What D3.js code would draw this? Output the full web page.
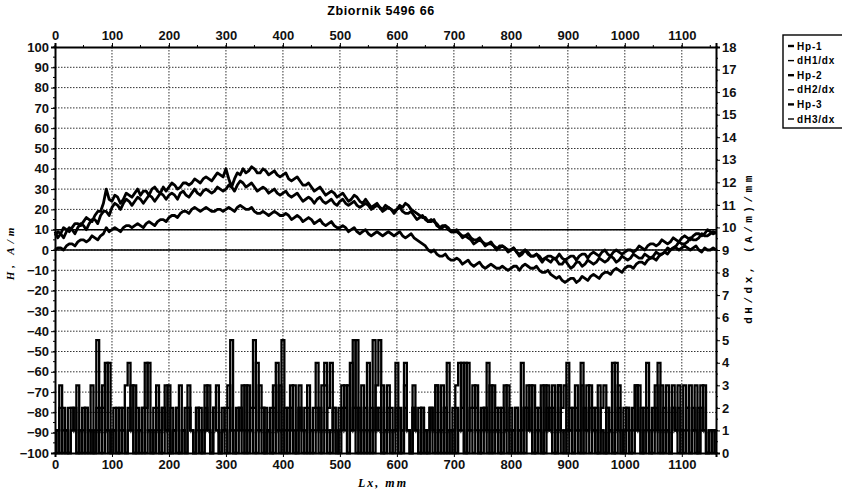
<!DOCTYPE html>
<html>
<head>
<meta charset="utf-8">
<script src="https://cdnjs.cloudflare.com/ajax/libs/d3/7.8.5/d3.min.js"></script>
<style>
body { margin:0; background:#fff; }
svg { font-family: "Liberation Sans", Arial, sans-serif; }
.tick text { font-weight:bold; font-size:13px; fill:#111; }
</style>
</head>
<body>
<div id="chart"></div>
<script>
// tick labels
const xTicks = [0,100,200,300,400,500,600,700,800,900,1000,1100];
const hTicks = [100,90,80,70,60,50,40,30,20,10,0,-10,-20,-30,-40,-50,-60,-70,-80,-90,-100];
const dTicks = [0,1,2,3,4,5,6,7,8,9,10,11,12,13,14,15,16,17,18];
const seriesNames = ['Hp-1','dH1/dx','Hp-2','dH2/dx','Hp-3','dH3/dx'];

// H curves, sampled every 5 mm (0..1160), one row = 100 mm
const hStep = 5;
const hp1 = [9,6,8,11,10,9,11,13,13,12,14,16,15,14,17,19,19,23,30,25,
  24,27,26,23,25,28,27,26,28,30,27,29,29,27,30,31,29,28,31,29,
  31,33,32,30,31,33,33,32,33,35,34,33,35,36,35,34,36,38,37,36,
  40,35,31,35,38,37,40,38,39,41,40,38,38,40,39,37,38,39,37,36,
  37,38,35,34,35,36,34,32,32,33,31,29,30,31,29,27,28,29,28,26,
  27,28,26,24,25,27,26,24,23,25,23,21,22,23,21,20,22,21,20,18,
  20,22,21,23,22,20,19,18,17,16,16,14,15,14,13,11,12,12,11,9,
  9,9,8,6,7,6,5,3,4,5,4,2,3,3,2,0,2,2,1,-1,
  0,1,-1,-3,-2,0,-1,-3,-3,-2,-4,-6,-4,-5,-6,-4,-5,-7,-7,-5,
  -7,-9,-8,-6,-6,-8,-7,-5,-6,-7,-6,-4,-5,-6,-5,-3,-4,-6,-5,-3,
  -4,-5,-4,-2,-3,-4,-4,-2,-3,-4,-3,-1,-2,-2,-1,1,0,1,2,4,
  3,3,4,6,5,5,6,8,7,7,8,9,8];
const hp2 = [7,9,8,6,9,11,10,8,11,13,12,10,13,15,15,13,17,19,19,17,
  21,23,22,20,23,25,24,22,24,26,25,23,25,27,26,24,26,28,27,25,
  27,28,27,25,28,29,27,26,28,30,28,27,29,30,29,28,29,31,30,29,
  30,32,31,29,32,34,33,31,32,33,31,29,30,31,30,28,29,30,28,27,
  28,29,27,26,27,28,26,24,25,26,25,23,25,26,24,23,24,25,23,22,
  24,25,23,22,23,24,22,21,22,23,22,20,21,22,21,19,20,21,20,19,
  20,21,19,18,18,19,17,15,16,17,15,14,14,15,12,11,11,12,10,9,
  9,10,8,7,7,8,6,5,5,6,4,3,3,4,2,1,1,2,1,0,
  0,1,-1,-2,-1,0,-2,-3,-3,-2,-3,-5,-4,-3,-3,-4,-4,-2,-4,-5,
  -4,-3,-3,-5,-3,-2,-2,-4,-2,-1,-2,-3,-1,0,-2,-3,-1,0,-1,-2,
  -1,0,0,-1,0,2,1,0,2,3,3,2,3,5,4,3,4,6,5,4,
  6,7,6,5,7,8,8,7,8,10,9,8,9];
const hp3 = [0,1,1,0,2,3,3,2,4,5,5,4,5,7,6,5,7,8,11,9,
  10,11,10,9,11,12,12,11,12,13,12,11,13,14,13,12,14,15,15,14,
  16,17,17,16,18,19,19,18,20,21,20,19,20,21,20,19,19,20,20,19,
  20,21,20,19,21,22,21,20,20,21,19,18,18,19,18,17,18,19,18,17,
  17,18,17,15,16,17,16,14,15,16,15,13,14,15,13,12,13,14,12,11,
  11,12,11,9,10,11,9,8,9,10,8,7,8,9,8,7,8,9,8,7,
  8,9,7,6,7,8,6,5,4,3,2,0,-1,0,-2,-3,-3,-2,-4,-5,
  -5,-4,-5,-7,-6,-5,-7,-8,-7,-6,-8,-9,-8,-7,-8,-9,-9,-8,-9,-10,
  -9,-8,-8,-10,-8,-7,-8,-9,-9,-8,-10,-11,-11,-10,-12,-13,-14,-13,-15,-16,
  -15,-14,-14,-16,-15,-13,-14,-15,-13,-12,-13,-14,-12,-11,-11,-12,-10,-9,-10,-11,
  -9,-8,-8,-9,-7,-6,-6,-7,-5,-4,-4,-5,-3,-2,-1,-2,0,1,1,0,
  1,2,1,0,1,2,0,-1,1,0,0,1,0];

// dH/dx curves, sampled every 5 mm (0..1160)
const dStep = 5;
const dh1 = [1,0,3,1,0,2,2,1,0,1, 0,2,1,0,1,5,0,2,4,1, 0,1,2,0,1,3,4,1,0,2,
  1,0,2,4,1,0,2,1,0,3, 1,0,1,2,0,1,0,2,1,0, 2,1,0,3,1,0,2,1,0,2,
  1,0,5,1,0,2,1,3,0,1, 2,4,1,0,2,1,0,3,1,0, 5,1,0,2,1,0,3,1,2,0,
  1,2,4,0,1,3,1,0,2,1, 0,2,1,3,1,5,0,2,1,0, 4,1,0,2,1,3,0,1,2,1,
  4,0,1,2,1,0,3,1,0,2, 1,0,2,1,0,1,3,0,4,1, 0,2,1,4,0,1,2,3,1,0,
  2,1,4,0,1,2,1,0,3,1, 0,1,2,0,1,2,1,3,0,2, 1,0,3,1,2,0,1,3,0,1,
  4,1,0,2,1,3,0,1,2,1, 0,3,1,0,2,1,0,1,3,0, 1,2,0,1,3,1,0,2,1,0,
  2,1,4,0,1,3,0,2,1,0, 1,3,1,0,2,1,0,3,1,0, 1,0,1];
const dh2 = [0,1,2,0,1,0,2,1,3,0, 1,2,0,1,0,2,1,3,1,4, 0,1,0,2,1,0,2,1,3,0,
  1,2,0,1,0,2,1,0,2,1, 3,0,1,2,0,1,2,3,1,0, 1,2,0,1,3,0,2,1,0,1,
  2,3,1,0,2,1,3,0,1,2, 5,0,1,2,0,1,2,0,4,1, 0,2,1,3,0,1,2,0,1,3,
  0,1,2,1,3,4,0,1,2,0, 1,3,2,0,1,2,5,1,0,2, 1,0,5,1,2,0,1,3,0,1,
  2,0,1,4,1,0,2,1,0,2, 0,1,2,0,3,1,0,2,1,0, 1,3,4,1,0,4,1,0,2,1,
  0,2,1,3,0,1,2,0,1,0, 2,1,0,1,4,0,2,1,3,0, 1,3,0,2,1,3,0,1,2,3,
  0,1,2,1,0,4,1,3,0,2, 1,0,2,3,0,1,4,0,2,1, 0,2,1,0,3,1,2,0,4,1,
  0,2,1,3,0,1,0,2,1,3, 0,1,2,0,1,3,0,2,1,0, 1,1,0];
const dh3 = [1,1,0,2,1,0,1,2,0,1, 2,0,1,3,0,1,2,0,1,0, 1,2,0,1,2,0,1,3,0,1,
  0,2,4,1,0,1,3,0,2,1, 0,2,1,0,3,1,0,2,1,0, 2,0,1,2,1,0,2,3,0,1,
  0,2,1,0,1,2,0,1,3,1, 0,1,3,2,0,1,0,2,1,3, 1,0,2,1,3,0,2,1,0,2,
  1,0,1,2,0,1,2,4,1,0, 2,1,3,0,4,1,2,0,3,1, 0,2,1,3,5,0,1,2,1,0,
  1,2,0,3,1,0,2,1,2,0, 1,0,2,1,3,0,1,2,0,1, 2,0,1,2,4,0,1,2,3,0,
  1,2,0,1,3,1,0,2,1,3, 1,0,2,1,0,2,3,1,0,1, 2,0,1,3,1,2,0,3,1,0,
  1,2,0,3,1,0,2,1,3,1, 2,0,1,0,2,1,0,4,1,0, 2,1,0,2,1,3,0,1,2,0,
  1,3,0,1,2,1,0,3,1,2, 1,0,2,3,1,0,2,1,3,0, 0,1,1];

const W = 842, H = 494;
const svg = d3.select('#chart').append('svg').attr('width', W).attr('height', H);

const x = d3.scaleLinear().domain([0,1160]).range([55,716]);
const yL = d3.scaleLinear().domain([-100,100]).range([453,47]);
const yR = d3.scaleLinear().domain([0,18]).range([453,47]);

// grid
svg.append('g').selectAll('line').data(hTicks.filter(d => d>-100 && d<100)).enter().append('line')
  .attr('x1', x(0)).attr('x2', x(1160))
  .attr('y1', d => yL(d)).attr('y2', d => yL(d))
  .attr('stroke', '#333').attr('stroke-width', 1).attr('stroke-dasharray', '1.5,1.5');
svg.append('g').selectAll('line').data(xTicks.filter(d => d>0)).enter().append('line')
  .attr('x1', d => x(d)).attr('x2', d => x(d))
  .attr('y1', yL(100)).attr('y2', yL(-100))
  .attr('stroke', '#333').attr('stroke-width', 1).attr('stroke-dasharray', '1.5,1.5');

// solid reference lines
svg.append('line').attr('x1', x(0)).attr('x2', x(1160)).attr('y1', yL(0)).attr('y2', yL(0))
  .attr('stroke', '#000').attr('stroke-width', 1.6);
svg.append('line').attr('x1', x(0)).attr('x2', x(1160)).attr('y1', yL(10)).attr('y2', yL(10))
  .attr('stroke', '#000').attr('stroke-width', 1.4);

// derivative lines
const dLine = d3.line().x((d,i) => x(i*dStep)).y(d => yR(d)).curve(d3.curveStep);
[dh1, dh2, dh3].forEach(s => {
  svg.append('path').datum(s).attr('d', dLine)
    .attr('fill', 'none').attr('stroke', '#000').attr('stroke-width', 2.3);
});

// H lines
const hLine = d3.line().x((d,i) => x(i*hStep)).y(d => yL(d));
[hp1, hp2, hp3].forEach(s => {
  svg.append('path').datum(s).attr('d', hLine)
    .attr('fill', 'none').attr('stroke', '#000').attr('stroke-width', 2.8)
    .attr('stroke-linejoin', 'round');
});

// axes
const fmt = d3.format('d');
const axTop = svg.append('g').attr('transform', `translate(0,${yL(100)})`)
  .call(d3.axisTop(x).tickValues(xTicks).tickFormat(fmt).tickSize(4).tickPadding(3));
const axBottom = svg.append('g').attr('transform', `translate(0,${yL(-100)})`)
  .call(d3.axisBottom(x).tickValues(xTicks).tickFormat(fmt).tickSize(4).tickPadding(3));
const axLeft = svg.append('g').attr('transform', `translate(${x(0)},0)`)
  .call(d3.axisLeft(yL).tickValues(hTicks).tickFormat(fmt).tickSize(4).tickPadding(2));
const axRight = svg.append('g').attr('transform', `translate(${x(1160)},0)`)
  .call(d3.axisRight(yR).tickValues(dTicks).tickFormat(fmt).tickSize(4).tickPadding(2));
[axTop, axBottom, axLeft, axRight].forEach(g => {
  g.select('.domain').attr('stroke-width', 2).attr('stroke', '#000');
  g.selectAll('.tick line').attr('stroke', '#000');
});

// minor ticks
svg.append('g').selectAll('line').data(d3.range(0, 1161, 50)).enter().append('line')
  .attr('x1', d => x(d)).attr('x2', d => x(d)).attr('y1', yL(100)).attr('y2', yL(100)-2).attr('stroke', '#000');
svg.append('g').selectAll('line').data(d3.range(-100, 101, 5)).enter().append('line')
  .attr('x1', x(0)).attr('x2', x(0)-2).attr('y1', d => yL(d)).attr('y2', d => yL(d)).attr('stroke', '#000');
svg.append('g').selectAll('line').data(d3.range(0, 18.01, 0.5)).enter().append('line')
  .attr('x1', x(1160)).attr('x2', x(1160)+2).attr('y1', d => yR(d)).attr('y2', d => yR(d)).attr('stroke', '#000');

// title and axis titles
svg.append('text').attr('x', 381).attr('y', 15).attr('text-anchor', 'middle')
  .attr('font-weight', 'bold').attr('font-size', 12.5).attr('letter-spacing', 0.6).text('Zbiornik 5496 66');
svg.append('text').attr('x', 383).attr('y', 487).attr('text-anchor', 'middle')
  .attr('font-family', '"Liberation Serif", serif').attr('font-style', 'italic')
  .attr('font-weight', 'bold').attr('font-size', 12).attr('letter-spacing', 2).text('Lx, mm');
svg.append('text').attr('transform', 'translate(14,252) rotate(-90)').attr('text-anchor', 'middle')
  .attr('font-family', '"Liberation Serif", serif').attr('font-style', 'italic')
  .attr('font-weight', 'bold').attr('font-size', 11).attr('letter-spacing', 4).text('H, A/m');
svg.append('text').attr('transform', 'translate(752,248) rotate(-90)').attr('text-anchor', 'middle')
  .attr('font-family', '"Liberation Mono", monospace')
  .attr('font-weight', 'bold').attr('font-size', 11).attr('letter-spacing', 3.5).text('dH/dx, (A/m)/mm');

// legend
const lg = svg.append('g').attr('transform', 'translate(783,35)');
lg.append('rect').attr('x', 0).attr('y', 0).attr('width', 70).attr('height', 93)
  .attr('fill', '#fff').attr('stroke', '#000').attr('stroke-width', 1.4);
seriesNames.forEach((n, i) => {
  const yy = 11 + i*14.6;
  lg.append('line').attr('x1', 5).attr('x2', 11).attr('y1', yy).attr('y2', yy)
    .attr('stroke', '#000').attr('stroke-width', i % 2 === 0 ? 2.4 : 1.4);
  lg.append('text').attr('x', 14).attr('y', yy + 3.5).attr('font-size', 10)
    .attr('font-weight', 'bold').attr('letter-spacing', 0.8).text(n);
});
</script>
</body>
</html>
